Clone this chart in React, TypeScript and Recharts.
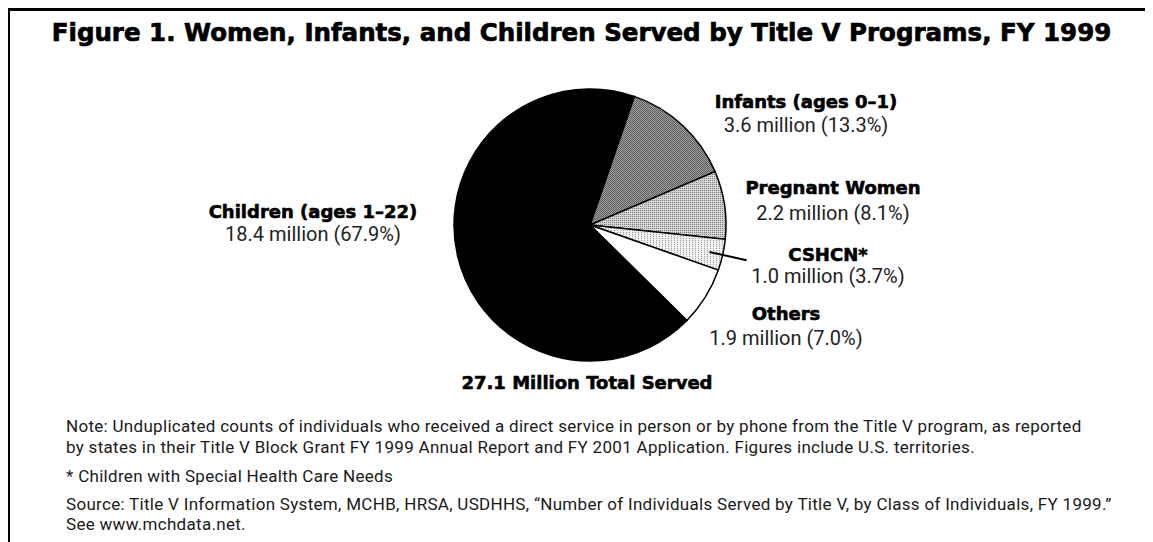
import React from 'react';
import { PieChart, Pie, Cell } from 'recharts';

const categories = ['Infants (ages 0–1)', 'Pregnant Women', 'CSHCN*', 'Others', 'Children (ages 1–22)'];
const millions = [3.6, 2.2, 1.0, 1.9, 18.4];
const percents = [13.3, 8.1, 3.7, 7.0, 67.9];

const fills = ['url(#pInf)', 'url(#pPreg)', 'url(#pCsh)', '#ffffff', '#000000'];
// label text centre offsets from the pie centre (layout only)
const labelOffsets: Record<string, [number, number, number]> = {
  'Infants (ages 0–1)': [216, -124, -100],
  'Pregnant Women': [243, -38, -12],
  'CSHCN*': [238, 29, 51],
  'Others': [196, 88, 113],
  'Children (ages 1–22)': [-277, -14, 9],
};

const data = categories.map((name, i) => ({ name, value: percents[i], millions: millions[i] }));
const total = millions.reduce((a, b) => a + b, 0);

const BODY = 'Roboto, "Liberation Sans", Arial, sans-serif';
const HEAVY = '"DejaVu Sans", Verdana, sans-serif';
const RADIAN = Math.PI / 180;

const renderLabel = (props: any) => {
  const { cx, cy, midAngle, outerRadius, index } = props;
  const name = categories[index];
  const off = labelOffsets[name];
  const parts: React.ReactNode[] = [];
  if (name === 'CSHCN*') {
    const cos = Math.cos(-midAngle * RADIAN);
    const sin = Math.sin(-midAngle * RADIAN);
    parts.push(
      <line key="l" x1={cx + outerRadius * 0.9 * cos} y1={cy + outerRadius * 0.9 * sin}
        x2={cx + outerRadius * 1.18 * cos} y2={cy + outerRadius * 1.18 * sin}
        stroke="#000" strokeWidth={2} />
    );
  }
  parts.push(
    <text key="a" x={cx + off[0]} y={cy + off[1]} textAnchor="middle" dominantBaseline="central"
      fontFamily={HEAVY} fontWeight={700} fontSize={18} fill="#000" stroke="#000" strokeWidth={0.6}>{name}</text>
  );
  parts.push(
    <text key="b" x={cx + off[0]} y={cy + off[2]} textAnchor="middle" dominantBaseline="central"
      fontFamily={BODY} fontSize={20} fill="#222">
      {`${millions[index].toFixed(1)} million (${percents[index].toFixed(1)}%)`}
    </text>
  );
  return <g>{parts}</g>;
};

export default function App() {
  return (
    <div style={{ position: 'relative', width: 1200, height: 560, boxSizing: 'border-box', background: '#fff', borderTop: '3px solid #000', borderLeft: '2px solid #000', overflow: 'hidden' }}>
      <style>{'html,body{overflow:hidden;background:#fff;}'}</style>
      <svg width={0} height={0} style={{ position: 'absolute' }}>
        <defs>
          <pattern id="pInf" width={2} height={2} patternUnits="userSpaceOnUse">
            <rect width={2} height={2} fill="#a0a0a0" />
            <rect width={1} height={1} fill="#5c5c5c" />
            <rect x={1} y={1} width={1} height={1} fill="#5c5c5c" />
          </pattern>
          <pattern id="pPreg" width={2} height={2} patternUnits="userSpaceOnUse">
            <rect width={2} height={2} fill="#d6d6d6" />
            <rect width={1} height={1} fill="#7a7a7a" />
          </pattern>
          <pattern id="pCsh" width={3} height={2} patternUnits="userSpaceOnUse">
            <rect width={3} height={2} fill="#f0f0f0" />
            <rect width={1} height={1} fill="#9a9a9a" />
          </pattern>
        </defs>
      </svg>
      <div style={{ position: 'absolute', left: -2, top: 8, width: 1147, textAlign: 'center', fontFamily: HEAVY, fontWeight: 700, fontSize: 24.5, lineHeight: '28px', color: '#000', whiteSpace: 'nowrap', WebkitTextStroke: '0.7px #000' }}>
        Figure 1. Women, Infants, and Children Served by Title V Programs, FY 1999
      </div>
      <div style={{ position: 'absolute', left: -2, top: -3 }}>
        <PieChart width={1145} height={400}>
          <Pie data={data} dataKey="value" nameKey="name" cx={577} cy={212} outerRadius={136}
            startAngle={71} endAngle={-289} stroke="#000" strokeWidth={1.5}
            label={renderLabel} labelLine={false} isAnimationActive={false}>
            {data.map((d, i) => (
              <Cell key={d.name} fill={fills[i]} />
            ))}
          </Pie>
        </PieChart>
      </div>
      <div style={{ position: 'absolute', left: 377, width: 400, top: 361, textAlign: 'center', fontFamily: HEAVY, fontWeight: 700, fontSize: 18, lineHeight: '22px', WebkitTextStroke: '0.6px #000' }}>
        {`${total.toFixed(1)} Million Total Served`}
      </div>
      <div style={{ position: 'absolute', left: 56, top: 405, width: 1100, fontFamily: BODY, fontSize: 17, letterSpacing: 0.3, lineHeight: '20.5px', color: '#1a1a1a', whiteSpace: 'nowrap' }}>
        <div>Note: Unduplicated counts of individuals who received a direct service in person or by phone from the Title V program, as reported<br />by states in their Title V Block Grant FY 1999 Annual Report and FY 2001 Application. Figures include U.S. territories.</div>
        <div style={{ marginTop: 9 }}>* Children with Special Health Care Needs</div>
        <div style={{ marginTop: 7 }}>Source: Title V Information System, MCHB, HRSA, USDHHS, “Number of Individuals Served by Title V, by Class of Individuals, FY 1999.”<br />See www.mchdata.net.</div>
      </div>
    </div>
  );
}
